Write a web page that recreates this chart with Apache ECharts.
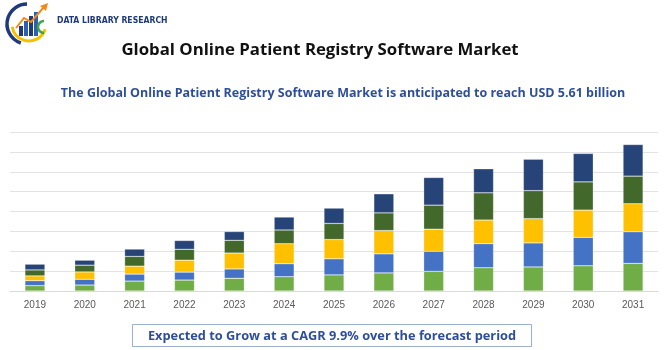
<!DOCTYPE html>
<html>
<head>
<meta charset="utf-8">
<script src="https://cdn.jsdelivr.net/npm/echarts@6/dist/echarts.min.js"></script>
<style>html,body{margin:0;padding:0;background:#fff}#c{width:670px;height:350px}</style>
</head>
<body>
<div id="c"></div>
<script>
var years = ['2019','2020','2021','2022','2023','2024','2025','2026','2027','2028','2029','2030','2031'];
var seriesA = [0.27,0.30,0.50,0.55,0.64,0.72,0.81,0.91,0.99,1.17,1.21,1.27,1.39];
var seriesB = [0.25,0.29,0.35,0.40,0.47,0.65,0.81,0.96,1.01,1.21,1.21,1.43,1.59];
var seriesC = [0.24,0.37,0.40,0.60,0.80,1.01,0.97,1.17,1.11,1.19,1.22,1.37,1.41];
var seriesD = [0.30,0.34,0.49,0.55,0.64,0.69,0.81,0.89,1.21,1.37,1.41,1.42,1.39];
var seriesE = [0.29,0.25,0.37,0.44,0.44,0.65,0.77,0.96,1.39,1.21,1.58,1.43,1.59];
var colors = ['#70AD47','#4472C4','#FFC000','#43682B','#264478'];
var titleText = 'Global Online Patient Registry Software Market';
var subtitleText = 'The Global Online Patient Registry Software Market is anticipated to reach USD 5.61 billion';
var footerText = 'Expected to Grow at a CAGR 9.9% over the forecast period';
var logoText = 'DATA LIBRARY RESEARCH';

var chart = echarts.init(document.getElementById('c'));
var data = [seriesA, seriesB, seriesC, seriesD, seriesE];
var series = data.map(function(d, i){
  return {
    type: 'bar', stack: 'total', data: d, barWidth: 20,
    itemStyle: {color: colors[i], borderColor: 'rgba(255,255,255,0.5)', borderWidth: 0.5},
    emphasis: {disabled: true}, animation: false
  };
});
chart.setOption({
  animation: false,
  grid: {left: 10, right: 12, top: 132, bottom: 59},
  xAxis: {
    type: 'category', data: years,
    axisLine: {lineStyle: {color: '#d9d9d9'}},
    axisTick: {show: false},
    axisLabel: {color: '#595959', fontSize: 10, fontFamily: 'Liberation Sans', margin: 9}
  },
  yAxis: {
    type: 'value', min: 0, max: 8, interval: 1,
    axisLabel: {show: false}, axisLine: {show: false}, axisTick: {show: false},
    splitLine: {lineStyle: {color: '#e3e3e3', width: 1}}
  },
  series: series,
  graphic: [
    {type: 'text', x: 320, y: 50, style: {text: titleText, fill: '#111', font: 'bold 16.8px "Open Sans"', textAlign: 'center', textVerticalAlign: 'middle'}},
    {type: 'text', x: 343, y: 93, style: {text: subtitleText, fill: '#2F4E9A', font: 'bold 12.5px "Open Sans"', textAlign: 'center', textVerticalAlign: 'middle'}},
    {type: 'rect', shape: {x: 132.5, y: 324.5, width: 399, height: 22}, style: {fill: '#fff', stroke: '#9AB0CC', lineWidth: 1}},
    {type: 'text', x: 332, y: 336, style: {text: footerText, fill: '#2F4E9A', font: 'bold 12.8px "Open Sans"', textAlign: 'center', textVerticalAlign: 'middle'}},
    {type: 'text', x: 57, y: 21, style: {text: logoText, fill: '#1F3A7A', font: 'bold 8.6px "DejaVu Sans Condensed"', textVerticalAlign: 'middle'}},
    {type: 'arc', shape: {cx: 27, cy: 24, r: 20, startAngle: Math.PI*0.6, endAngle: Math.PI*1.5}, style: {stroke: '#1F3A7A', lineWidth: 3.5, fill: null}},
    {type: 'arc', shape: {cx: 29, cy: 24, r: 17, startAngle: Math.PI*0.1, endAngle: Math.PI*0.95}, style: {stroke: '#F2C200', lineWidth: 3, fill: null}},
    {type: 'rect', shape: {x: 19, y: 26, width: 4, height: 10}, style: {fill: '#1F3A7A'}},
    {type: 'rect', shape: {x: 24, y: 21, width: 4, height: 15}, style: {fill: '#2F5FB0'}},
    {type: 'rect', shape: {x: 29, y: 16, width: 4, height: 20}, style: {fill: '#1F3A7A'}},
    {type: 'rect', shape: {x: 34, y: 12, width: 4, height: 24}, style: {fill: '#2F5FB0'}},
    {type: 'polyline', shape: {points: [[16,28],[24,18],[31,22],[44,7]]}, style: {stroke: '#F08A1C', lineWidth: 2, fill: null}},
    {type: 'polygon', shape: {points: [[48,3],[40,6],[46,11]]}, style: {fill: '#F08A1C'}},
    {type: 'arc', shape: {cx: 44, cy: 27, r: 6, startAngle: Math.PI*0.5, endAngle: Math.PI*1.5}, style: {stroke: '#3FA34D', lineWidth: 2.5, fill: null}}
  ]
});
</script>
</body>
</html>
